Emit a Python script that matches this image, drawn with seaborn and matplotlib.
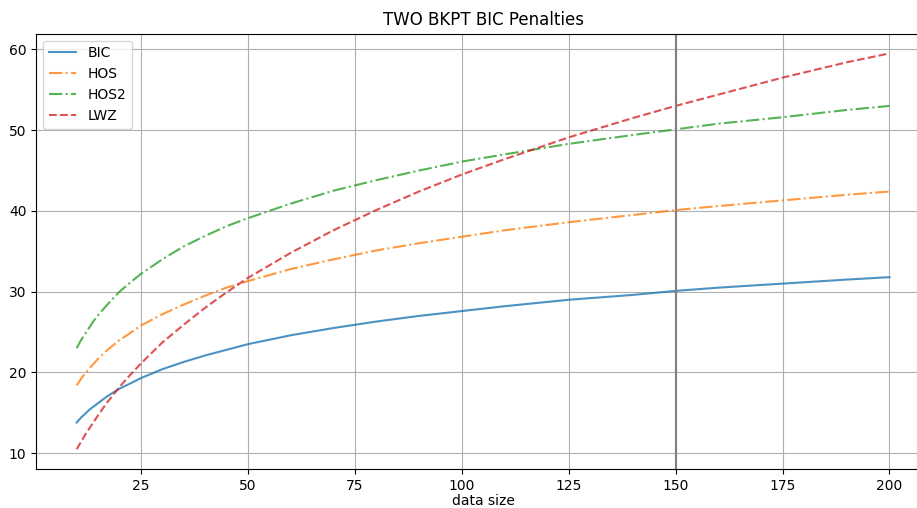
import matplotlib
matplotlib.use("Agg")
import matplotlib.pyplot as plt
import seaborn as sns

# values
data_size = [10, 11, 12, 13, 14, 15, 17, 20, 22, 25, 30, 35, 40, 45, 50, 60,
             70, 80, 90, 100, 110, 125, 140, 150, 160, 175, 190, 200]
bic = [13.8, 14.4, 14.9, 15.4, 15.8, 16.2, 17.0, 18.0, 18.5, 19.3, 20.4,
       21.3, 22.1, 22.8, 23.5, 24.6, 25.5, 26.3, 27.0, 27.6, 28.2, 29.0,
       29.6, 30.1, 30.5, 31.0, 31.5, 31.8]
hos = [18.4, 19.2, 19.9, 20.5, 21.1, 21.7, 22.7, 24.0, 24.7, 25.8, 27.2,
       28.4, 29.5, 30.5, 31.3, 32.8, 34.0, 35.1, 36.0, 36.8, 37.6, 38.6,
       39.5, 40.1, 40.6, 41.3, 42.0, 42.4]
hos2 = [23.0, 24.0, 24.8, 25.6, 26.4, 27.1, 28.3, 30.0, 30.9, 32.2, 34.0,
        35.6, 36.9, 38.1, 39.1, 40.9, 42.5, 43.8, 45.0, 46.1, 47.0, 48.3,
        49.4, 50.1, 50.8, 51.6, 52.5, 53.0]
lwz = [10.5, 11.4, 12.3, 13.1, 13.9, 14.7, 16.2, 18.2, 19.4, 21.1, 23.7,
       25.9, 28.0, 29.9, 31.7, 34.8, 37.6, 40.1, 42.4, 44.5, 46.4, 49.1,
       51.5, 53.0, 54.4, 56.5, 58.4, 59.5]
marker_size = 150

fig = plt.figure(figsize=(9.17, 5.08), dpi=100)
ax = fig.add_axes([0.0393, 0.0768, 0.975, 0.857])

sns.lineplot(x=data_size, y=bic, label="BIC", color="C0", alpha=0.8, ax=ax)
sns.lineplot(x=data_size, y=hos, label="HOS", color="C1", linestyle="-.", alpha=0.8, ax=ax)
sns.lineplot(x=data_size, y=hos2, label="HOS2", color="C2", linestyle="-.", alpha=0.8, ax=ax)
sns.lineplot(x=data_size, y=lwz, label="LWZ", color="C3", linestyle="--", alpha=0.8, ax=ax)
ax.axvline(marker_size, color="grey", linewidth=1.5)

ax.grid(True)
ax.set_xlabel("data size", labelpad=1)
ax.set_title("TWO BKPT BIC Penalties")
ax.legend(loc="upper left")

fig.savefig("out.png", dpi=100)
